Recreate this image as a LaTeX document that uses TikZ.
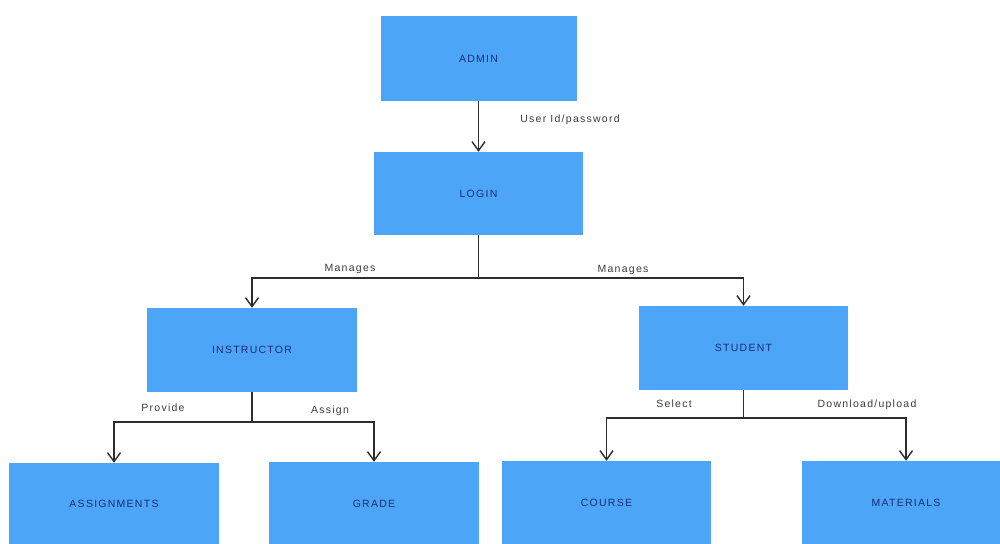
\documentclass[tikz,border=0pt]{standalone}
\usepackage{fontspec}
\setmainfont{Liberation Sans}
\newfontfamily\boxfont[LetterSpace=12]{Liberation Sans}
\newfontfamily\labfont[LetterSpace=12]{Liberation Sans}
\usetikzlibrary{arrows.meta}
\definecolor{boxblue}{RGB}{77,165,248}
\definecolor{boxtext}{RGB}{25,45,115}
\definecolor{linegray}{RGB}{45,45,45}
\definecolor{labgray}{RGB}{60,60,60}
\begin{document}
\begin{tikzpicture}[x=1pt,y=-1pt,
  entity/.style={fill=boxblue,draw=none,text=boxtext,inner sep=0pt,
    font=\boxfont\fontsize{10.5}{12}\selectfont},
  conn/.style={draw=linegray,line width=1.4pt,
    -{Straight Barb[length=9pt,width=13pt,line width=1.4pt]}},
  plain/.style={draw=linegray,line width=1.4pt},
  lab/.style={text=labgray,inner sep=0pt,font=\labfont\fontsize{10.5}{12}\selectfont}]
\useasboundingbox (0,0) rectangle (1000,543);
\clip (0,0) rectangle (1000,543);
\fill[white] (0,0) rectangle (1000,543);

\node[entity,minimum width=196pt,minimum height=85pt] (admin) at (478.5,58.5) {ADMIN};
\node[entity,minimum width=209pt,minimum height=83pt] (login) at (478.5,193.5) {LOGIN};
\node[entity,minimum width=210pt,minimum height=84pt] (instructor) at (252,350) {INSTRUCTOR};
\node[entity,minimum width=209pt,minimum height=84pt] (student) at (743.5,348) {STUDENT};
\node[entity,minimum width=210pt,minimum height=82pt] (assignments) at (114,504) {ASSIGNMENTS};
\node[entity,minimum width=210pt,minimum height=83pt] (grade) at (374,503.5) {GRADE};
\node[entity,minimum width=209pt,minimum height=84pt] (course) at (606.5,503) {COURSE};
\node[entity,minimum width=208pt,minimum height=84pt] (materials) at (906,503) {MATERIALS};

\coordinate (j1) at (478.5,278);
\coordinate (j2) at (252,422);
\coordinate (j3) at (743.5,418);

\draw[conn] (admin.south) -- (login.north);
\draw[plain] (login.south) -- (j1);
\draw[conn] (j1) -| (instructor.north);
\draw[conn] (j1) -| (student.north);
\draw[plain] (instructor.south) -- (j2);
\draw[conn] (j2) -| (assignments.north);
\draw[conn] (j2) -| (grade.north);
\draw[plain] (student.south) -- (j3);
\draw[conn] (j3) -| (course.north);
\draw[conn] (j3) -| (materials.north);

\node[lab] (l1) at (570,120) {User Id/password};
\node[lab] (l2) at (350,269) {Manages};
\node[lab] (l3) at (623,270) {Manages};
\node[lab] (l4) at (163,408) {Provide};
\node[lab] (l5) at (330,411) {Assign};
\node[lab] (l6) at (674,404) {Select};
\node[lab] (l7) at (867,405) {Download/upload};
\end{tikzpicture}
\end{document}
